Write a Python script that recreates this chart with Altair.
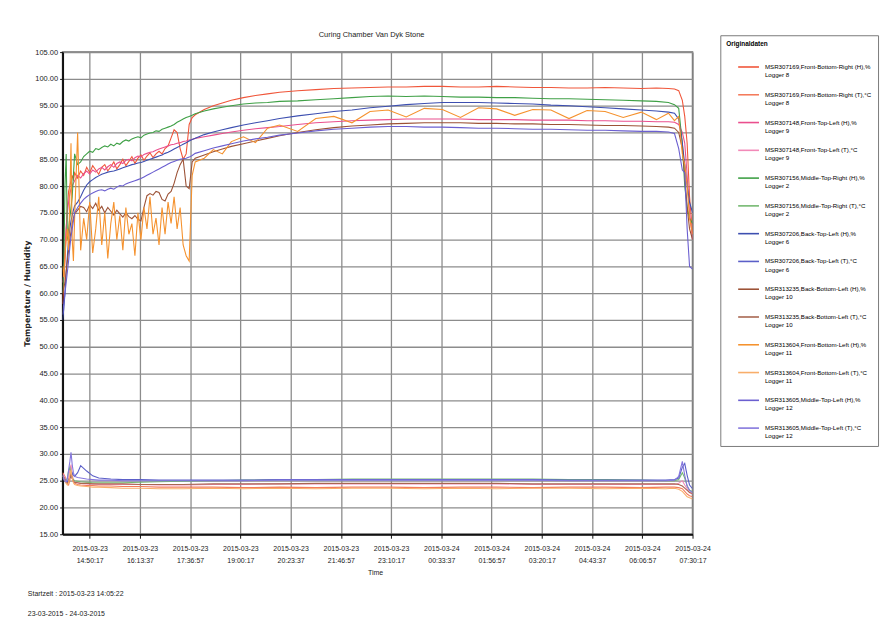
import datetime as dt
import altair as alt
import pandas as pd

START = "2015-03-23 14:05:22"
END = "2015-03-24 07:30:17"
FIRST_TICK = "2015-03-23 14:50:17"
TICK_STEP_S = 5000
N_TICKS = 13
Y_TICKS = [15, 20, 25, 30, 35, 40, 45, 50, 55, 60, 65, 70, 75, 80, 85, 90, 95, 100, 105]

TITLE = "Curing Chamber Van Dyk Stone"
X_TITLE = "Time"
Y_TITLE = "Temperature / Humidity"
LEGEND_TITLE = "Originaldaten"
FOOTNOTES = ["Startzeit : 2015-03-23 14:05:22", "23-03-2015 - 24-03-2015"]

# minutes after start (humidity and temperature sampling grids)
T_H = [0, 2, 4, 6, 8, 10, 12, 14, 16, 18, 20,
       25, 30, 35, 40, 45, 50, 55, 60, 65, 70, 75, 80, 85, 90, 95, 100, 105, 110, 115, 120,
       125, 130, 135, 140, 145, 150, 155, 160, 165, 170, 175, 180, 185, 190, 195, 200, 205, 210, 215, 220,
       235, 250, 265, 280, 300, 320, 340, 360, 390, 420, 450, 480, 510, 540, 570, 600, 630, 660, 690, 720,
       750, 780, 810, 840, 870, 900, 930, 960, 985, 1005,
       1015, 1022, 1028, 1032, 1036, 1040, 1045]
T_T = [0, 2, 4, 6, 8, 10, 12, 14, 16, 18, 20, 25, 30, 40, 50, 60, 80, 100, 130, 160, 200, 250, 300,
       360, 420, 480, 540, 600, 660, 720, 780, 840, 900, 960, 1000,
       1015, 1022, 1028, 1032, 1036, 1040, 1045]

LABELS = [
    "MSR307169,Front-Bottom-Right (H),%|Logger 8",
    "MSR307169,Front-Bottom-Right (T),°C|Logger 8",
    "MSR307148,Front-Top-Left (H),%|Logger 9",
    "MSR307148,Front-Top-Left (T),°C|Logger 9",
    "MSR307156,Middle-Top-Right (H),%|Logger 2",
    "MSR307156,Middle-Top-Right (T),°C|Logger 2",
    "MSR307206,Back-Top-Left (H),%|Logger 6",
    "MSR307206,Back-Top-Left (T),°C|Logger 6",
    "MSR313235,Back-Bottom-Left (H),%|Logger 10",
    "MSR313235,Back-Bottom-Left (T),°C|Logger 10",
    "MSR313604,Front-Bottom-Left (H),%|Logger 11",
    "MSR313604,Front-Bottom-Left (T),°C|Logger 11",
    "MSR313605,Middle-Top-Left (H),%|Logger 12",
    "MSR313605,Middle-Top-Left (T),°C|Logger 12",
]
COLORS = ["#f0563a", "#f47b5c", "#ea4f8e", "#f28ab8", "#3fa046", "#74b870", "#3d4fb0",
          "#5b5fc8", "#9c5236", "#a86650", "#f5922e", "#f8ae6a", "#6b5fd0", "#8577dd"]

H_LOGGER8 = [58, 62, 66, 72, 76, 79, 80, 81, 82, 81, 82.5,
             81.5, 82.8, 82, 83.5, 82.5, 83.8, 83, 82.2, 83.5, 84, 82.8, 83.6, 84.5, 83.2, 84, 85, 83.8, 84.6, 85.5, 84.2,
             85.2, 85.8, 84.8, 85.6, 86.2, 85.3, 86, 86.5, 86, 87, 87.5, 89, 90.5, 90, 87, 85, 86, 91.5, 92.8, 93.3,
             94.3, 95, 95.5, 96, 96.5, 96.9, 97.2, 97.5, 97.8, 98, 98.2, 98.3, 98.4, 98.5, 98.5, 98.6, 98.6, 98.5, 98.5, 98.6,
             98.5, 98.4, 98.4, 98.3, 98.3, 98.4, 98.3, 98.2, 98.3, 98.2,
             98.1, 97.8, 96, 93, 88, 78, 71]
H_LOGGER9 = [62, 64, 68, 72, 75, 77, 78.5, 79.5, 80, 80.5, 81,
             82, 81.5, 82.3, 82.8, 82.2, 83, 82.6, 83.2, 83.5, 83, 83.6, 84, 83.5, 84.2, 84.5, 84.2, 84.8, 85, 84.7, 85.3,
             85.6, 85.4, 85.9, 86.1, 86.3, 86.4, 86.7, 86.9, 87.1, 87.3, 87.5, 87.7, 87.8, 88, 88.1, 88.3, 88.4, 88.6, 88.7, 88.9,
             89.2, 89.5, 89.8, 90.1, 90.4, 90.7, 90.9, 91.1, 91.5, 91.8, 92, 92.2, 92.3, 92.4, 92.5, 92.5, 92.5, 92.5, 92.4, 92.4,
             92.4, 92.3, 92.3, 92.3, 92.2, 92.2, 92.1, 92.1, 92, 92,
             91.9, 91.5, 90, 88, 82, 75, 70]
H_LOGGER2 = [60, 64, 80, 86, 70, 72, 74, 76, 78, 82, 86,
             84, 84.5, 85.5, 86, 86.5, 86.3, 87, 86.8, 87.2, 87.5, 87.3, 87.8, 87.5, 88, 87.8, 88.3, 88.6, 88.4, 88.8, 89,
             89.2, 89, 89.5, 89.7, 89.9, 90, 90.3, 90.2, 90.6, 90.8, 91, 91.2, 91.5, 91.9, 92.2, 92.5, 92.8, 93, 93.2, 93.5,
             94, 94.4, 94.7, 95, 95.3, 95.5, 95.6, 95.8, 95.9, 96.1, 96.3, 96.5, 96.7, 96.8, 96.7, 96.8, 96.7, 96.6, 96.6, 96.5,
             96.5, 96.4, 96.3, 96.3, 96.2, 96.1, 96, 95.9, 95.8, 95.6,
             95.2, 94.5, 88, 80, 76, 74, 73]
H_LOGGER6 = [55, 57, 60, 64, 67, 70, 72, 73.5, 74.5, 75.5, 76.3,
             77, 78, 79.2, 80.2, 80.8, 81.2, 81.6, 81.9, 82.2, 82.4, 82.6, 82.7, 82.8, 83, 83.2, 83.4, 83.6, 83.8, 84, 84.1,
             84.3, 84.4, 84.6, 84.8, 85, 85.2, 85.4, 85.6, 85.8, 86.1, 86.3, 86.6, 86.9, 87.2, 87.5, 87.8, 88.1, 88.4, 88.7, 88.9,
             89.6, 90.1, 90.5, 90.9, 91.4, 91.8, 92.2, 92.6, 93.1, 93.5, 93.9, 94.2, 94.6, 94.9, 95.2, 95.4, 95.6, 95.6, 95.6, 95.5,
             95.4, 95.3, 95.1, 95, 94.8, 94.6, 94.4, 94.2, 94, 93.8,
             93.6, 92.5, 88, 84, 80, 77, 75]
H_LOGGER10 = [60, 61, 62, 64, 66, 68, 70, 71.5, 73, 74, 74.8,
              75.5, 76.2, 76, 75.2, 76.5, 75.8, 76.8, 75.5, 76.2, 75, 76, 75.3, 74.6, 75.5, 74.8, 74.2, 75, 74.3, 73.9, 74.5,
              73.8, 73.5, 76, 78.2, 78.6, 78.3, 79, 78.8, 77.5, 77.2, 78.5, 79, 80.5, 82.5, 84, 85, 80, 79.5, 84.5, 85.2,
              85.8, 86.4, 86.9, 87.4, 87.9, 88.4, 88.9, 89.4, 90, 90.5, 90.9, 91.2, 91.4, 91.6, 91.7, 91.8, 91.8, 91.8, 91.7, 91.7,
              91.6, 91.6, 91.5, 91.5, 91.4, 91.3, 91.3, 91.2, 91.1, 91,
              90.8, 90, 87, 82, 76, 72, 70]
H_LOGGER11 = [65, 63, 67, 70, 72, 68, 78, 88, 70, 66, 74,
              90, 68, 74, 70, 77, 67.5, 72, 78, 69, 75, 66.5, 73, 77, 70, 74.5, 68, 76, 71, 73, 67,
              75, 70, 76, 72, 78, 71, 74, 69, 76, 71, 77, 73, 78, 72, 76, 69, 67, 66, 82, 84.5,
              85.2, 86.8, 86, 88.3, 89.2, 88.1, 90.8, 91.4, 90.2, 92.6, 93, 91.8, 93.9, 94.2, 92.9, 94.5, 94.3, 92.8, 94.6, 94.4,
              93.2, 94.3, 94.2, 92.6, 94.1, 93.9, 92.8, 93.8, 92.4, 93.6,
              92.2, 93, 86, 84, 80, 74, 71]
H_LOGGER12 = [56, 58, 60, 62, 64, 66, 68.5, 70.5, 72, 73.5, 75,
              76, 76.8, 77.5, 78, 78.4, 78.7, 79, 79.2, 79.3, 79.1, 79.4, 79.6, 79.4, 79.8, 80.1, 80, 80.4, 80.6, 80.8, 81,
              81.2, 81.4, 81.7, 82, 82.3, 82.6, 82.9, 83.2, 83.5, 83.8, 84.1, 84.4, 84.6, 84.8, 85, 85.1, 85.2, 85.4, 85.7, 86.1,
              86.6, 87.1, 87.5, 87.9, 88.4, 88.8, 89.1, 89.5, 89.9, 90.3, 90.6, 90.8, 91, 91.1, 91.1, 91, 91, 90.9, 90.8, 90.8,
              90.7, 90.6, 90.6, 90.5, 90.4, 90.4, 90.3, 90.2, 90.2, 90.1,
              89.8, 87, 83, 82.5, 72, 65, 64.5]

T_LOGGER8 = [26.5, 26.2, 25.8, 25.0, 24.4, 24.2, 25.0, 26.5, 25.5, 24.8, 24.5,
             24.3, 24.2, 24.1, 24.1, 24.0, 24.0, 23.9, 23.9, 23.8, 23.8, 23.8, 23.7, 23.8, 23.7, 23.8, 23.8, 23.7, 23.8,
             23.8, 23.7, 23.8, 23.8, 23.7, 23.8,
             23.8, 23.7, 23.5, 23.0, 22.5, 22.2, 22.0]
T_LOGGER9 = [26.3, 26.0, 25.5, 24.8, 24.5, 25.5, 27.0, 28.0, 26.0, 25.2, 24.8,
             24.6, 24.5, 24.4, 24.4, 24.3, 24.3, 24.3, 24.3, 24.2, 24.2, 24.3, 24.3, 24.4, 24.4, 24.4, 24.4, 24.4, 24.4,
             24.4, 24.3, 24.3, 24.3, 24.3, 24.3,
             24.3, 24.5, 25.0, 24.2, 23.5, 22.8, 22.5]
T_LOGGER2 = [26.0, 25.6, 25.2, 24.8, 25.5, 26.8, 27.5, 26.5, 25.5, 25.2, 25.0,
             24.9, 24.8, 24.7, 24.6, 24.6, 24.6, 24.6, 24.7, 24.8, 24.9, 25.0, 25.1, 25.2, 25.2, 25.3, 25.3, 25.3, 25.3,
             25.3, 25.3, 25.2, 25.2, 25.1, 25.0,
             25.0, 25.2, 26.5, 25.5, 24.0, 23.2, 23.0]
T_LOGGER6 = [25.5, 25.2, 24.8, 24.6, 24.8, 25.2, 25.5, 25.8, 26.5, 26.0, 25.8,
             26.5, 27.8, 26.8, 25.9, 25.5, 25.3, 25.2, 25.2, 25.1, 25.1, 25.1, 25.1, 25.2, 25.2, 25.2, 25.2, 25.2, 25.2,
             25.2, 25.2, 25.1, 25.1, 25.1, 25.1,
             25.2, 25.5, 27.5, 28.2, 26.0, 24.2, 23.5]
T_LOGGER10 = [25.8, 25.6, 25.2, 24.8, 24.5, 24.8, 25.6, 26.2, 25.4, 24.9, 24.7,
              24.6, 24.5, 24.5, 24.4, 24.4, 24.4, 24.4, 24.3, 24.3, 24.3, 24.4, 24.4, 24.4, 24.5, 24.5, 24.5, 24.5, 24.5,
              24.5, 24.4, 24.4, 24.4, 24.4, 24.4,
              24.4, 24.3, 24.0, 23.6, 23.2, 22.8, 22.6]
T_LOGGER11 = [25.8, 25.5, 25.0, 24.5, 24.2, 24.6, 26.0, 27.0, 25.5, 24.6, 24.3,
              24.1, 24.0, 23.9, 23.8, 23.8, 23.7, 23.6, 23.6, 23.5, 23.5, 23.6, 23.5, 23.6, 23.5, 23.6, 23.6, 23.5, 23.6,
              23.5, 23.6, 23.6, 23.5, 23.6, 23.5,
              23.6, 23.4, 23.0, 22.5, 22.0, 21.8, 21.6]
T_LOGGER12 = [26.0, 25.5, 25.0, 24.8, 25.5, 27.0, 28.5, 30.3, 28.0, 26.5, 25.8,
              25.6, 25.5, 25.3, 25.2, 25.1, 25.1, 25.0, 25.0, 25.0, 25.0, 25.0, 25.0, 25.1, 25.1, 25.1, 25.1, 25.1, 25.1,
              25.1, 25.1, 25.0, 25.0, 25.0, 25.0,
              25.1, 25.8, 28.6, 26.0, 24.0, 23.2, 22.8]

SERIES = [
    (LABELS[0], T_H, H_LOGGER8), (LABELS[1], T_T, T_LOGGER8),
    (LABELS[2], T_H, H_LOGGER9), (LABELS[3], T_T, T_LOGGER9),
    (LABELS[4], T_H, H_LOGGER2), (LABELS[5], T_T, T_LOGGER2),
    (LABELS[6], T_H, H_LOGGER6), (LABELS[7], T_T, T_LOGGER6),
    (LABELS[8], T_H, H_LOGGER10), (LABELS[9], T_T, T_LOGGER10),
    (LABELS[10], T_H, H_LOGGER11), (LABELS[11], T_T, T_LOGGER11),
    (LABELS[12], T_H, H_LOGGER12), (LABELS[13], T_T, T_LOGGER12),
]

start = pd.Timestamp(START)
rows = []
for label, times, vals in SERIES:
    assert len(times) == len(vals), (label, len(times), len(vals))
    for m, v in zip(times, vals):
        rows.append({"time": start + pd.Timedelta(minutes=m), "value": v, "series": label})
df = pd.DataFrame(rows)


def to_dt(ts):
    return alt.DateTime(year=ts.year, month=ts.month, date=ts.day,
                        hours=ts.hour, minutes=ts.minute, seconds=ts.second)


first = pd.Timestamp(FIRST_TICK)
tick_values = [to_dt(first + pd.Timedelta(seconds=TICK_STEP_S * k)) for k in range(N_TICKS)]

FONT = "Liberation Sans"

lines = alt.Chart(df).mark_line(strokeWidth=1.1, clip=True).encode(
    x=alt.X("time:T",
            scale=alt.Scale(domain=[to_dt(pd.Timestamp(START)), to_dt(pd.Timestamp(END))]),
            axis=alt.Axis(values=tick_values,
                          labelExpr="[timeFormat(datum.value, '%Y-%m-%d'), timeFormat(datum.value, '%H:%M:%S')]",
                          labelOverlap=False, labelFlush=False, labelFontSize=7, labelLineHeight=12,
                          labelPadding=6, tickSize=4, title=X_TITLE, titleFontSize=7,
                          titleFontWeight="normal", titleY=35, titleX=315)),
    y=alt.Y("value:Q",
            scale=alt.Scale(domain=[15, 105], nice=False, zero=False),
            axis=alt.Axis(values=Y_TICKS, format=".2f", labelFontSize=7.5, labelPadding=2, tickSize=3,
                          title=Y_TITLE, titleFontSize=8, titleFont="DejaVu Sans", titleFontWeight="bold",
                          titleAngle=270, titleX=-35, titleY=243, titleAlign="center",
                          titleBaseline="middle")),
    color=alt.Color("series:N",
                    scale=alt.Scale(domain=LABELS, range=COLORS),
                    legend=alt.Legend(orient="none", legendX=663, legendY=-17,
                                      title=LEGEND_TITLE, titleFontSize=6.5, titleFontWeight="bold",
                                      titleFont=FONT, titlePadding=8,
                                      labelExpr="split(datum.label, '|')", labelFontSize=6.2,
                                      labelFont=FONT, labelLimit=160, labelOffset=5,
                                      symbolType="stroke", symbolSize=440, symbolStrokeWidth=1.6,
                                      symbolOffset=11, rowPadding=5, padding=6,
                                      fillColor="white", strokeColor="#7a7a7a")),
)

notes = alt.Chart(alt.Data(values=[{"note": "\n".join(FOOTNOTES)}])).mark_text(
    align="left", baseline="top", lineBreak="\n", lineHeight=20, fontSize=7, font=FONT, color="#222"
).encode(text="note:N", x=alt.value(-35), y=alt.value(542))

chart = alt.layer(lines, notes).properties(
    width=635, height=486,
    title=alt.Title(TITLE, fontSize=7.5, fontWeight="normal", font=FONT, color="#222",
                    offset=12, frame="group", dx=-6, dy=16),
    autosize=alt.AutoSizeParams(type="none"),
    padding={"left": 55, "top": 42, "right": 192, "bottom": 88},
    background="white",
).configure_view(
    stroke="#6e6e6e", strokeWidth=1.5
).configure_axis(
    labelFont=FONT, titleFont=FONT, labelColor="#222", titleColor="#222",
    gridColor="#8c8c8c", gridWidth=1.3, domainColor="#111", domainWidth=2,
    tickColor="#111"
)

chart.save("out.html", embed_options={"renderer": "svg", "actions": False})
